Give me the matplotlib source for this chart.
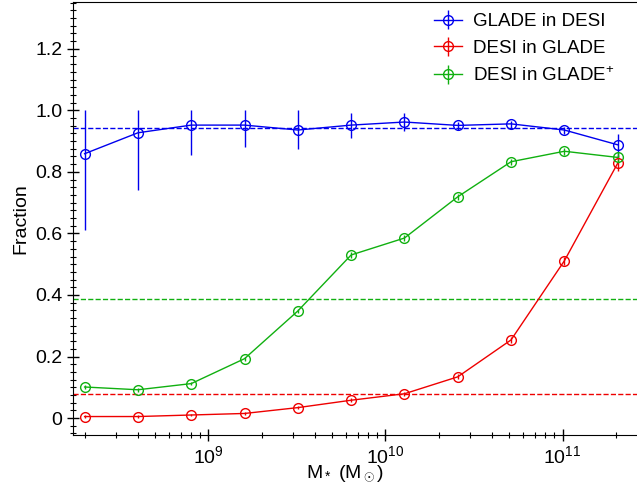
"""
Completeness fractions of GLADE / DESI cross-matches versus stellar mass.
"""
import numpy as np
import matplotlib
matplotlib.use('Agg')
import matplotlib.pyplot as plt
from matplotlib.ticker import MultipleLocator, LogLocator, NullFormatter

# ── data ─────────────────────────────────────────────────────────────────────
mass = [2.0e8, 4.0e8, 8.0e8, 1.6e9, 3.2e9, 6.4e9,
        1.28e10, 2.56e10, 5.12e10, 1.024e11, 2.048e11]

glade_in_desi     = [0.859, 0.927, 0.952, 0.952, 0.936, 0.952,
                     0.962, 0.951, 0.956, 0.936, 0.888]
glade_in_desi_lo  = [0.248, 0.186, 0.097, 0.072, 0.061, 0.042,
                     0.030, 0.015, 0.012, 0.012, 0.040]
glade_in_desi_hi  = [0.141, 0.073, 0.048, 0.048, 0.064, 0.040,
                     0.028, 0.012, 0.010, 0.010, 0.034]

desi_in_glade     = [0.005, 0.005, 0.010, 0.015, 0.034, 0.058,
                     0.079, 0.134, 0.254, 0.511, 0.828]
desi_in_glade_err = [0.004, 0.004, 0.004, 0.004, 0.005, 0.006,
                     0.007, 0.008, 0.010, 0.012, 0.026]

desi_in_gladep     = [0.101, 0.092, 0.112, 0.193, 0.348, 0.530,
                      0.585, 0.719, 0.833, 0.867, 0.847]
desi_in_gladep_err = [0.006, 0.006, 0.006, 0.007, 0.008, 0.009,
                      0.010, 0.010, 0.010, 0.012, 0.018]

mean_glade_in_desi  = 0.941
mean_desi_in_glade  = 0.078
mean_desi_in_gladep = 0.387

labels = ['GLADE in DESI', 'DESI in GLADE', 'DESI in GLADE$^{+}$']

BLUE, RED, GREEN = '#0000ee', '#ee0000', '#10b010'

plt.rcParams.update({
    'font.family': ['Liberation Sans', 'DejaVu Sans'],
    'font.size': 14,
    'mathtext.fontset': 'custom',
    'mathtext.rm': 'Liberation Sans',
    'mathtext.it': 'Liberation Sans:italic',
    'mathtext.sf': 'Liberation Sans',
})

fig = plt.figure(figsize=(6.37, 4.90), dpi=100)
ax = fig.add_axes([73/637, 55/490, (652-73)/637, (433)/490])

mk = dict(marker='o', mfc='none', ms=7, lw=1.0, elinewidth=1.0, capsize=0, mew=1.0)

ax.errorbar(mass, glade_in_desi, yerr=[glade_in_desi_lo, glade_in_desi_hi],
            color=BLUE, label=labels[0], **mk)
ax.errorbar(mass, desi_in_glade, yerr=desi_in_glade_err,
            color=RED, label=labels[1], **mk)
ax.errorbar(mass, desi_in_gladep, yerr=desi_in_gladep_err,
            color=GREEN, label=labels[2], **mk)

ax.axhline(mean_glade_in_desi, color=BLUE, ls='--', lw=1.0)
ax.axhline(mean_desi_in_glade, color=RED, ls='--', lw=1.0)
ax.axhline(mean_desi_in_gladep, color=GREEN, ls='--', lw=1.0)

ax.set_xscale('log')
ax.set_xlim(1.72e8, 3.2e11)
ax.set_ylim(-0.055, 1.352)

ax.yaxis.set_minor_locator(MultipleLocator(0.025))
ax.set_yticks([0, 0.2, 0.4, 0.6, 0.8, 1.0, 1.2])
ax.set_yticklabels(['0', '0.2', '0.4', '0.6', '0.8', '1.0', '1.2'])
ax.xaxis.set_major_locator(LogLocator(base=10, numticks=10))
ax.xaxis.set_minor_locator(LogLocator(base=10, subs=np.arange(2, 10), numticks=20))
ax.xaxis.set_minor_formatter(NullFormatter())

ax.tick_params(which='major', direction='inout', length=8, width=1.0, labelsize=14)
ax.tick_params(which='minor', direction='inout', length=5, width=0.8)
ax.spines['right'].set_visible(False)

ax.set_ylabel('Fraction', fontsize=14)
ax.set_xlabel('M$_*$ (M$_\\odot$)', fontsize=14)
ax.xaxis.set_label_coords((345-73)/(652-73), -0.066)

ax.legend(loc='upper right', bbox_to_anchor=(628/637, 1.0),
          bbox_transform=fig.transFigure, frameon=False, fontsize=13.5,
          handlelength=1.5, handletextpad=0.6, labelspacing=0.5,
          borderaxespad=0.3)

fig.savefig('out.png', dpi=100)
plt.close(fig)
